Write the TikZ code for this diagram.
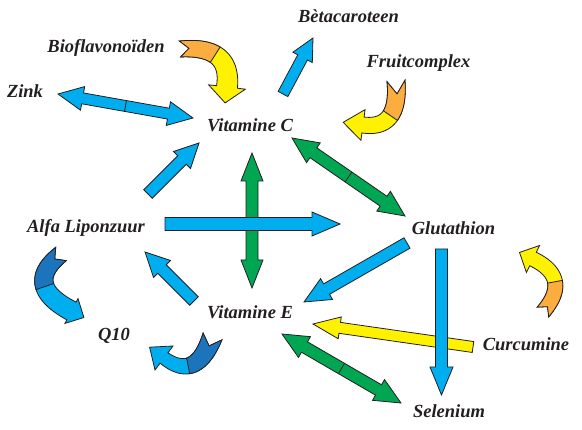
\documentclass[tikz,border=0pt]{standalone}
\usepackage{fontspec}
\setmainfont{Liberation Serif}
\usetikzlibrary{calc}

\definecolor{ablue}{HTML}{00AEEF}
\definecolor{dblue}{HTML}{1C75BC}
\definecolor{agreen}{HTML}{00A651}
\definecolor{ayellow}{HTML}{FFF200}
\definecolor{aorange}{HTML}{FBAD3F}
\definecolor{ink}{HTML}{231F20}

\tikzset{
  lbl/.style={anchor=base, inner sep=0pt, text=ink, font=\fontsize{18.5}{20}\selectfont\bfseries\itshape},
  arrowline/.style={draw=ink, line width=0.8pt, line join=miter},
  declare function={
    bzx(\x)=(1-\x)^2*\Pax+2*\x*(1-\x)*\Pbx+\x^2*\Pcx;
    bzy(\x)=(1-\x)^2*\Pay+2*\x*(1-\x)*\Pby+\x^2*\Pcy;
    tgx(\x)=2*(1-\x)*(\Pbx-\Pax)+2*\x*(\Pcx-\Pbx);
    tgy(\x)=2*(1-\x)*(\Pby-\Pay)+2*\x*(\Pcy-\Pby);
    tgl(\x)=veclen(tgx(\x),tgy(\x));
    bw(\x)=\Wa+(\Wb-\Wa)*\x;
    ox(\x)=bzx(\x)-bw(\x)*tgy(\x)/tgl(\x);
    oy(\x)=bzy(\x)+bw(\x)*tgx(\x)/tgl(\x);
    ix(\x)=bzx(\x)+bw(\x)*tgy(\x)/tgl(\x);
    iy(\x)=bzy(\x)-bw(\x)*tgx(\x)/tgl(\x);
  }
}

% straight block arrow: tail, tip, colour, half shaft, half head, head length
\newcommand\singlearrow[6]{%
  \pgfpointdiff{\pgfpointanchor{#1}{center}}{\pgfpointanchor{#2}{center}}%
  \pgfgetlastxy{\bdx}{\bdy}%
  \pgfmathsetmacro\bang{atan2(\bdy,\bdx)}%
  \pgfmathsetmacro\blen{veclen(\bdx,\bdy)}%
  \begin{scope}[shift={(#1)},rotate=\bang,x=1pt,y=1pt]
    \draw[arrowline,fill=#3] (0,-#4) -- ({\blen-#6},-#4) -- ({\blen-#6},-#5) -- (\blen,0)
      -- ({\blen-#6},#5) -- ({\blen-#6},#4) -- (0,#4) -- cycle;
  \end{scope}}

\newcommand\doublearrow[6]{%
  \pgfpointdiff{\pgfpointanchor{#1}{center}}{\pgfpointanchor{#2}{center}}%
  \pgfgetlastxy{\bdx}{\bdy}%
  \pgfmathsetmacro\bang{atan2(\bdy,\bdx)}%
  \pgfmathsetmacro\blen{veclen(\bdx,\bdy)}%
  \begin{scope}[shift={(#1)},rotate=\bang,x=1pt,y=1pt]
    \draw[arrowline,fill=#3] (0,0) -- (#6,#5) -- (#6,#4) -- ({\blen-#6},#4) -- ({\blen-#6},#5)
      -- (\blen,0) -- ({\blen-#6},-#5) -- ({\blen-#6},-#4) -- (#6,-#4) -- (#6,-#5) -- cycle;
    \draw[arrowline] ({\blen/2},-#4) -- ({\blen/2},#4);
  \end{scope}}

% curved block arrow along a quadratic curve
\newcommand\setcurve[6]{\def\Pax{#1}\def\Pay{#2}\def\Pbx{#3}\def\Pby{#4}\def\Pcx{#5}\def\Pcy{#6}}
% w0, w1, half head, head length, notch depth, split, tail colour, head colour
\newcommand\drawcurve[8]{%
  \def\Wa{#1}\def\Wb{#2}%
  \pgfmathsetmacro\Tex{\Pcx-\Pbx}\pgfmathsetmacro\Tey{\Pcy-\Pby}%
  \pgfmathsetmacro\Tel{veclen(\Tex,\Tey)}%
  \pgfmathsetmacro\ux{\Tex/\Tel}\pgfmathsetmacro\uy{\Tey/\Tel}%
  \pgfmathsetmacro\HOx{\Pcx-#3*\uy}\pgfmathsetmacro\HOy{\Pcy+#3*\ux}%
  \pgfmathsetmacro\HIx{\Pcx+#3*\uy}\pgfmathsetmacro\HIy{\Pcy-#3*\ux}%
  \pgfmathsetmacro\HTx{\Pcx+#4*\ux}\pgfmathsetmacro\HTy{\Pcy+#4*\uy}%
  \pgfmathsetmacro\Tsx{\Pbx-\Pax}\pgfmathsetmacro\Tsy{\Pby-\Pay}%
  \pgfmathsetmacro\Tsl{veclen(\Tsx,\Tsy)}%
  \pgfmathsetmacro\NTx{\Pax+#5*\Tsx/\Tsl}\pgfmathsetmacro\NTy{\Pay+#5*\Tsy/\Tsl}%
  \filldraw[arrowline,fill=#8] plot[domain=0:1,samples=30,smooth] ({ox(\x)},{oy(\x)}) -- (\HOx,\HOy) -- (\HTx,\HTy)
     -- (\HIx,\HIy) -- plot[domain=1:0,samples=30,smooth] ({ix(\x)},{iy(\x)}) -- (\NTx,\NTy) -- cycle;
  \filldraw[arrowline,fill=#7] plot[domain=0:#6,samples=20,smooth] ({ox(\x)},{oy(\x)})
     -- plot[domain=#6:0,samples=20,smooth] ({ix(\x)},{iy(\x)}) -- (\NTx,\NTy) -- cycle;
}

\begin{document}
\begin{tikzpicture}[x=1pt,y=-1pt]
\useasboundingbox (0,0) rectangle (582,430);

% labels
\node[lbl] (beta)  at (348.5,23) {Bètacaroteen};
\node[lbl] (bio)   at (106,53)   {Bioflavonoïden};
\node[lbl] (fruit) at (418.5,68) {Fruitcomplex};
\node[lbl] (zink)  at (25,98)    {Zink};
\node[lbl] (vitc)  at (250,132)  {Vitamine C};
\node[lbl] (alfa)  at (86,233)   {Alfa Liponzuur};
\node[lbl] (glut)  at (453.5,235) {Glutathion};
\node[lbl] (vite)  at (250,319)  {Vitamine E};
\node[lbl] (q10)   at (114,341)  {Q10};
\node[lbl] (curc)  at (526,351)  {Curcumine};
\node[lbl] (sel)   at (449,418)  {Selenium};

% connector end points
\coordinate (zc1) at (58,94);    \coordinate (zc2) at (193,118);
\coordinate (cb1) at (283,94);   \coordinate (cb2) at (313,38);
\coordinate (cg1) at (292,138);  \coordinate (cg2) at (405,216);
\coordinate (ac1) at (148,194);  \coordinate (ac2) at (199,143);
\coordinate (ce1) at (252,153);  \coordinate (ce2) at (252,288);
\coordinate (ag1) at (165,224);  \coordinate (ag2) at (340,224);
\coordinate (ge1) at (407,243);  \coordinate (ge2) at (304,302);
\coordinate (gs1) at (441.5,249); \coordinate (gs2) at (441.5,395);
\coordinate (ea1) at (194,301);  \coordinate (ea2) at (145,252);
\coordinate (ke1) at (473,347);  \coordinate (ke2) at (313,324);
\coordinate (es1) at (282,334);  \coordinate (es2) at (401,403);

% curved arrows
\setcurve{180}{49}{232}{45}{227}{87}
\drawcurve{8}{10.5}{18.5}{16}{9}{0.45}{aorange}{ayellow}
\setcurve{396}{81}{400}{130}{363}{125}
\drawcurve{9}{8}{15.5}{20}{13}{0.48}{aorange}{ayellow}
\setcurve{61}{254}{22}{285}{71.5}{311}
\drawcurve{8.5}{10}{14}{14}{8}{0.55}{dblue}{ablue}
\setcurve{212.5}{336.5}{196}{382}{164}{358}
\drawcurve{10}{6.5}{15}{18}{10}{0.58}{dblue}{ablue}
\setcurve{543}{312}{572}{278}{533}{259}
\drawcurve{7.5}{7.5}{15}{15}{7}{0.5}{aorange}{ayellow}

% green double arrows
\doublearrow{cg1}{cg2}{agreen}{6}{12}{26}
\doublearrow{ce1}{ce2}{agreen}{6}{11}{28}
\doublearrow{es1}{es2}{agreen}{6}{12}{26}

% yellow arrow
\singlearrow{ke1}{ke2}{ayellow}{5.5}{11}{27}

% blue arrows
\doublearrow{zc1}{zc2}{ablue}{5.5}{12}{25}
\singlearrow{cb1}{cb2}{ablue}{5.5}{11}{22}
\singlearrow{ac1}{ac2}{ablue}{6}{12}{24}
\singlearrow{ag1}{ag2}{ablue}{6.5}{12}{28}
\singlearrow{ge1}{ge2}{ablue}{6}{12}{26}
\singlearrow{gs1}{gs2}{ablue}{6}{11.5}{28}
\singlearrow{ea1}{ea2}{ablue}{6}{12}{24}
\end{tikzpicture}
\end{document}
